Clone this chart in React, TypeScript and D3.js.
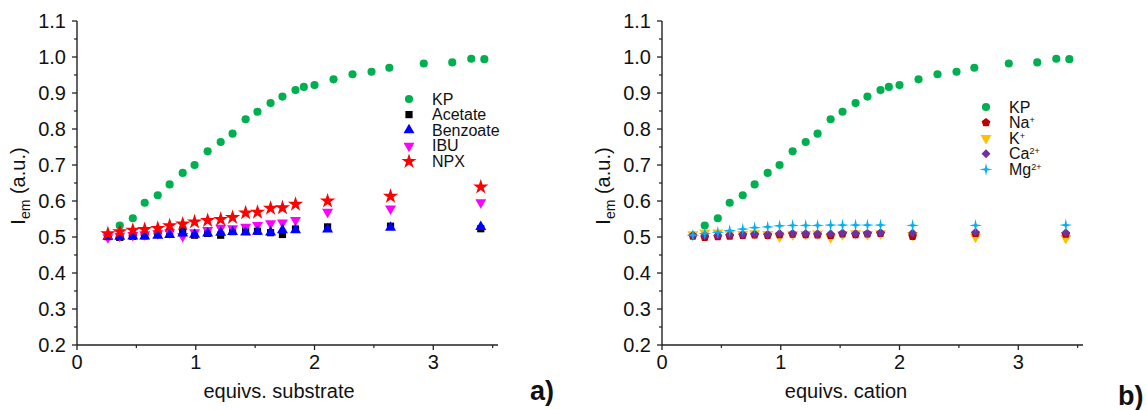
import React from "react";
import * as d3 from "d3";

// ---------- data ----------
const kpX = [0.36, 0.47, 0.57, 0.68, 0.78, 0.89, 0.99, 1.10, 1.21, 1.31, 1.42, 1.52, 1.63, 1.73, 1.84, 1.91, 2.0, 2.16, 2.32, 2.48, 2.63, 2.92, 3.16, 3.32, 3.43];
const kpY = [0.532, 0.552, 0.595, 0.616, 0.646, 0.678, 0.700, 0.738, 0.764, 0.787, 0.827, 0.848, 0.872, 0.890, 0.908, 0.917, 0.922, 0.938, 0.952, 0.959, 0.970, 0.982, 0.985, 0.995, 0.994];

const titX = [0.26, 0.36, 0.47, 0.57, 0.68, 0.78, 0.89, 0.99, 1.10, 1.21, 1.31, 1.42, 1.52, 1.63, 1.73, 1.84, 2.11, 2.64, 3.40];

const acetateY = [0.501, 0.499, 0.502, 0.503, 0.508, 0.515, 0.519, 0.505, 0.510, 0.505, 0.515, 0.519, 0.516, 0.512, 0.507, 0.522, 0.528, 0.530, 0.523];
const benzoateY = [0.501, 0.501, 0.502, 0.502, 0.504, 0.506, 0.510, 0.507, 0.510, 0.512, 0.514, 0.513, 0.515, 0.513, 0.519, 0.519, 0.521, 0.526, 0.528];
const ibuY = [0.499, 0.503, 0.505, 0.507, 0.510, 0.513, 0.502, 0.513, 0.519, 0.525, 0.524, 0.528, 0.533, 0.538, 0.540, 0.547, 0.570, 0.579, 0.596];
const npxY = [0.509, 0.515, 0.519, 0.521, 0.524, 0.531, 0.536, 0.542, 0.546, 0.549, 0.554, 0.567, 0.569, 0.580, 0.581, 0.591, 0.600, 0.613, 0.639];

const naY = [0.503, 0.499, 0.501, 0.503, 0.505, 0.506, 0.505, 0.507, 0.508, 0.507, 0.506, 0.505, 0.509, 0.507, 0.509, 0.510, 0.502, 0.510, 0.508];
const kY = [0.507, 0.512, 0.512, 0.510, 0.508, 0.510, 0.508, 0.501, 0.507, 0.508, 0.509, 0.499, 0.507, 0.510, 0.508, 0.510, 0.505, 0.500, 0.497];
const caY = [0.504, 0.505, 0.505, 0.506, 0.507, 0.508, 0.507, 0.510, 0.510, 0.510, 0.509, 0.509, 0.511, 0.510, 0.510, 0.512, 0.511, 0.513, 0.512];
const mgY = [0.505, 0.510, 0.513, 0.518, 0.522, 0.526, 0.528, 0.531, 0.532, 0.532, 0.532, 0.533, 0.533, 0.533, 0.533, 0.533, 0.532, 0.532, 0.533];

const yTicks = [0.2, 0.3, 0.4, 0.5, 0.6, 0.7, 0.8, 0.9, 1.0, 1.1];
const xTicks = [0, 1, 2, 3];

// ---------- layout ----------
const W = 1147;
const H = 410;
const FONT = "'Liberation Sans', Arial, Helvetica, sans-serif";

type Shape = "circle" | "square" | "up" | "down" | "star" | "pentagon" | "diamond" | "plus";

function shapePath(s: Shape): string {
  switch (s) {
    case "circle":
      return d3.symbol(d3.symbolCircle, 52)() as string;
    case "square":
      return d3.symbol(d3.symbolSquare, 52)() as string;
    case "up":
      return d3.symbol(d3.symbolTriangle, 52)() as string;
    case "down":
      return d3.symbol(d3.symbolTriangle, 52)() as string;
    case "star":
      return d3.symbol(d3.symbolStar, 72)() as string;
    case "diamond":
      return d3.symbol(d3.symbolSquare, 40)() as string;
    case "pentagon": {
      const r = 4.6;
      const pts = d3.range(5).map((i) => {
        const a = -Math.PI / 2 + (i * 2 * Math.PI) / 5;
        return [r * Math.cos(a), r * Math.sin(a)];
      });
      return "M" + pts.map((p) => p.join(",")).join("L") + "Z";
    }
    case "plus": {
      const R = 6.5;
      const r = 1.6;
      const pts: number[][] = [];
      for (let i = 0; i < 8; i++) {
        const a = -Math.PI / 2 + (i * Math.PI) / 4;
        const rr = i % 2 === 0 ? R : r;
        pts.push([rr * Math.cos(a), rr * Math.sin(a)]);
      }
      return "M" + pts.map((p) => p.join(",")).join("L") + "Z";
    }
  }
}

function rot(s: Shape) {
  if (s === "down") return " rotate(180)";
  if (s === "diamond") return " rotate(45)";
  return "";
}

interface Series {
  name: React.ReactNode;
  xs: number[];
  ys: number[];
  color: string;
  shape: Shape;
}

const leftSeries: Series[] = [
  { name: "KP", xs: kpX, ys: kpY, color: "#00b050", shape: "circle" },
  { name: "Acetate", xs: titX, ys: acetateY, color: "#000000", shape: "square" },
  { name: "Benzoate", xs: titX, ys: benzoateY, color: "#0000ff", shape: "up" },
  { name: "IBU", xs: titX, ys: ibuY, color: "#ff00ff", shape: "down" },
  { name: "NPX", xs: titX, ys: npxY, color: "#ff0000", shape: "star" },
];

const sup = (base: string, s: string) => (
  <>
    {base}
    <tspan fontSize={9} dy={-5}>{s}</tspan>
  </>
);

const rightSeries: Series[] = [
  { name: "KP", xs: kpX, ys: kpY, color: "#00b050", shape: "circle" },
  { name: sup("Na", "+"), xs: titX, ys: naY, color: "#c00000", shape: "pentagon" },
  { name: sup("K", "+"), xs: titX, ys: kY, color: "#ffc000", shape: "down" },
  { name: sup("Ca", "2+"), xs: titX, ys: caY, color: "#7030a0", shape: "diamond" },
  { name: sup("Mg", "2+"), xs: titX, ys: mgY, color: "#00b0f0", shape: "plus" },
];

// draw order: as in the reference (later series on top)
const leftOrder = [0, 1, 3, 2, 4];
const rightOrder = [0, 2, 1, 3, 4];

interface PanelProps {
  x0: number;
  x1: number;
  series: Series[];
  order: number[];
  xTitle: string;
  xTitleX: number;
  legendX: number;
  legendY: number;
  tag: string;
  tagX: number;
  tagY: number;
}

function Panel(p: PanelProps) {
  const x = d3.scaleLinear().domain([0, 3.545]).range([p.x0, p.x1]);
  const y = d3.scaleLinear().domain([0.2, 1.1]).range([345, 21]);
  const yMinor = d3.range(0.25, 1.1, 0.1);
  const xMinor = [0.5, 1.5, 2.5, 3.5];
  const axisColor = "#222";
  return (
    <g>
      {/* axes */}
      <line x1={p.x0} x2={p.x0} y1={y(1.1)} y2={y(0.2)} stroke={axisColor} strokeWidth={1.4} />
      <line x1={p.x0} x2={p.x1} y1={y(0.2)} y2={y(0.2)} stroke={axisColor} strokeWidth={1.4} />
      {yTicks.map((t) => (
        <g key={"yt" + t}>
          <line x1={p.x0 - 5} x2={p.x0} y1={y(t)} y2={y(t)} stroke={axisColor} strokeWidth={1.3} />
          <text x={p.x0 - 11} y={y(t) + 7} textAnchor="end" fontSize={20} fill="#111" fontFamily={FONT}>
            {t.toFixed(1)}
          </text>
        </g>
      ))}
      {yMinor.map((t) => (
        <line key={"ym" + t} x1={p.x0 - 3} x2={p.x0} y1={y(t)} y2={y(t)} stroke={axisColor} strokeWidth={1.2} />
      ))}
      {xTicks.map((t) => (
        <g key={"xt" + t}>
          <line x1={x(t)} x2={x(t)} y1={y(0.2)} y2={y(0.2) + 5} stroke={axisColor} strokeWidth={1.3} />
          <text x={x(t)} y={y(0.2) + 24} textAnchor="middle" fontSize={20} fill="#111" fontFamily={FONT}>
            {t}
          </text>
        </g>
      ))}
      {xMinor.map((t) => (
        <line key={"xm" + t} x1={x(t)} x2={x(t)} y1={y(0.2)} y2={y(0.2) + 3} stroke={axisColor} strokeWidth={1.2} />
      ))}
      {/* axis titles */}
      <text x={p.xTitleX} y={398} textAnchor="middle" fontSize={20} fill="#111" fontFamily={FONT}>
        {p.xTitle}
      </text>
      <text
        transform={`translate(${p.x0 - 52},186) rotate(-90)`}
        textAnchor="middle"
        fontSize={20}
        fill="#111"
        fontFamily={FONT}
      >
        I<tspan fontSize={14} dy={5}>em</tspan>
        <tspan dy={-5}> (a.u.)</tspan>
      </text>
      {/* data */}
      {p.order.map((si) => {
        const s = p.series[si];
        const d = shapePath(s.shape);
        return (
          <g key={"s" + si}>
            {s.xs.map((xv, i) => (
              <path
                key={i}
                d={d}
                transform={`translate(${x(xv)},${y(s.ys[i])})${rot(s.shape)}`}
                fill={s.color}
              />
            ))}
          </g>
        );
      })}
      {/* legend */}
      {p.series.map((s, i) => {
        const ly = p.legendY + i * 15.6;
        return (
          <g key={"l" + i}>
            <path d={shapePath(s.shape)} transform={`translate(${p.legendX},${ly})${rot(s.shape)}`} fill={s.color} />
            <text x={p.legendX + 23} y={ly + 5.5} fontSize={16} fill="#111" fontFamily={FONT}>
              {s.name}
            </text>
          </g>
        );
      })}
      {/* panel tag */}
      <text x={p.tagX} y={p.tagY} fontSize={27} fontWeight="bold" fill="#111" fontFamily={FONT}>
        {p.tag}
      </text>
    </g>
  );
}

export default function App() {
  return (
    <svg
      width={W}
      height={H}
      viewBox={`0 0 ${W} ${H}`}
      style={{ position: "absolute", left: 0, top: 0, background: "#fff" }}
    >
      <rect width={W} height={H} fill="#fff" />
      <Panel
        x0={77}
        x1={498}
        series={leftSeries}
        order={leftOrder}
        xTitle="equivs. substrate"
        xTitleX={279}
        legendX={409}
        legendY={99}
        tag="a)"
        tagX={530}
        tagY={400}
      />
      <Panel
        x0={662}
        x1={1083}
        series={rightSeries}
        order={rightOrder}
        xTitle="equivs. cation"
        xTitleX={846}
        legendX={986}
        legendY={107}
        tag="b)"
        tagX={1118}
        tagY={405}
      />
    </svg>
  );
}
